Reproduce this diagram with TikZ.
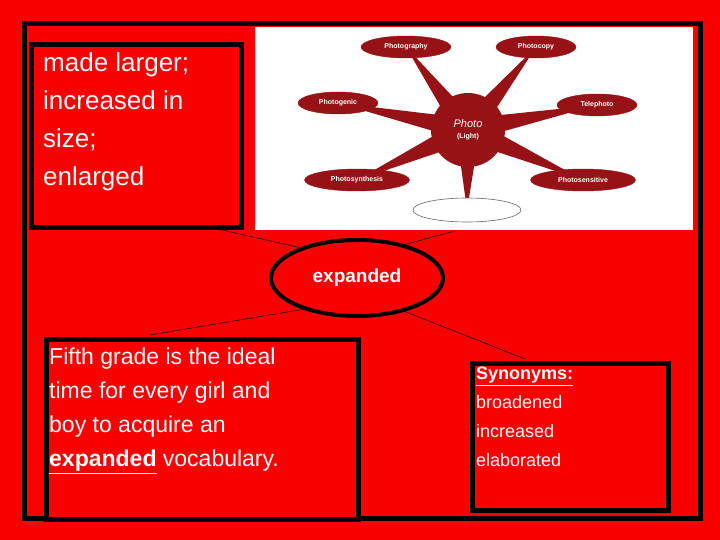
\documentclass[tikz,border=0pt]{standalone}
\usepackage{fontspec}
\setmainfont{Liberation Sans}
\usetikzlibrary{shapes.geometric,calc}
\definecolor{bg}{RGB}{250,0,0}
\definecolor{dred}{RGB}{150,18,22}
\begin{document}
\begin{tikzpicture}[x=1pt,y=-1pt,
  blk/.style={draw=black,line width=5pt},
  bub/.style={ellipse,fill=dred,draw=dred,minimum height=22pt,inner sep=0pt,text=white,font=\bfseries\fontsize{7}{8}\selectfont},
  lnk/.style={draw=black,line width=0.5pt}]
\fill[bg] (0,0) rectangle (720,540);
\useasboundingbox (0,0) rectangle (720,540);
\draw[blk] (24,24) rectangle (700,518);
% image
\fill[white] (255,27) rectangle (693,230);
\coordinate (hubc) at (468,130);
\coordinate (c1) at (406,47);
\coordinate (c2) at (536,47);
\coordinate (c3) at (338,103);
\coordinate (c4) at (597,105);
\coordinate (c5) at (357,180);
\coordinate (c6) at (583,180);
\coordinate (c7) at (467,210);
\foreach \b/\a in {c1/-120,c2/-60,c3/170,c4/10,c5/150,c6/30,c7/90}{
  \fill[dred] ($(hubc)+(\a+90:12)$) -- (\b) -- ($(hubc)+(\a-90:12)$) -- cycle;
}
\fill[dred] (hubc) circle (37);
\node[bub,minimum width=90pt] (b1) at (c1) {Photography};
\node[bub,minimum width=80pt] (b2) at (c2) {Photocopy};
\node[bub,minimum width=80pt] (b3) at (c3) {Photogenic};
\node[bub,minimum width=80pt] (b4) at (c4) {Telephoto};
\node[bub,minimum width=105pt] (b5) at (c5) {Photosynthesis};
\node[bub,minimum width=105pt] (b6) at (c6) {Photosensitive};
\node[ellipse,draw=black!60,fill=white,minimum width=108pt,minimum height=24pt,line width=0.6pt] (b7) at (c7) {};
\node[text=white,align=center,inner sep=0pt] (hub) at (hubc) {{\fontsize{11}{12}\selectfont\itshape Photo}\\[-1pt]{\fontsize{7}{8}\selectfont\bfseries (Light)}};
% center ellipse
\node[ellipse,draw=black,line width=4pt,fill=bg,minimum width=172pt,minimum height=76pt,text=white,font=\bfseries\fontsize{19}{22}\selectfont] (ex) at (357,278) {expanded};
% boxes
\node[blk,fill=bg,minimum width=210pt,minimum height=183pt,anchor=north west,inner sep=0pt] (tl) at (29,42) {};
\node[anchor=north west,align=left,text=white,font=\fontsize{26}{38}\selectfont,inner sep=0pt] (tlt) at (43,52) {made larger;\\increased in\\size;\\enlarged};
\node[blk,fill=bg,minimum width=312pt,minimum height=180pt,anchor=north west,inner sep=0pt] (bl) at (44,337) {};
\node[anchor=north west,align=left,text=white,font=\fontsize{23}{34}\selectfont,inner sep=0pt] (blt) at (49,348) {Fifth grade is the ideal\\time for every girl and\\boy to acquire an\\\underline{\textbf{expanded}} vocabulary.};
\node[blk,fill=bg,minimum width=196pt,minimum height=147pt,anchor=north west,inner sep=0pt] (br) at (470,361) {};
\node[anchor=north west,align=left,text=white,font=\fontsize{18}{29}\selectfont,inner sep=0pt] (brt) at (476,367) {\underline{\textbf{Synonyms:}}\\broadened\\increased\\elaborated};
% connectors
\coordinate (k1) at (222,230);
\coordinate (k2) at (455,231);
\coordinate (k3) at (150,335);
\coordinate (k4) at (525,359);
\draw[lnk] (k1) -- (ex.152);
\draw[lnk] (k2) -- (ex.35);
\draw[lnk] (ex.210) -- (k3);
\draw[lnk] (ex.-35) -- (k4);
\end{tikzpicture}
\end{document}
